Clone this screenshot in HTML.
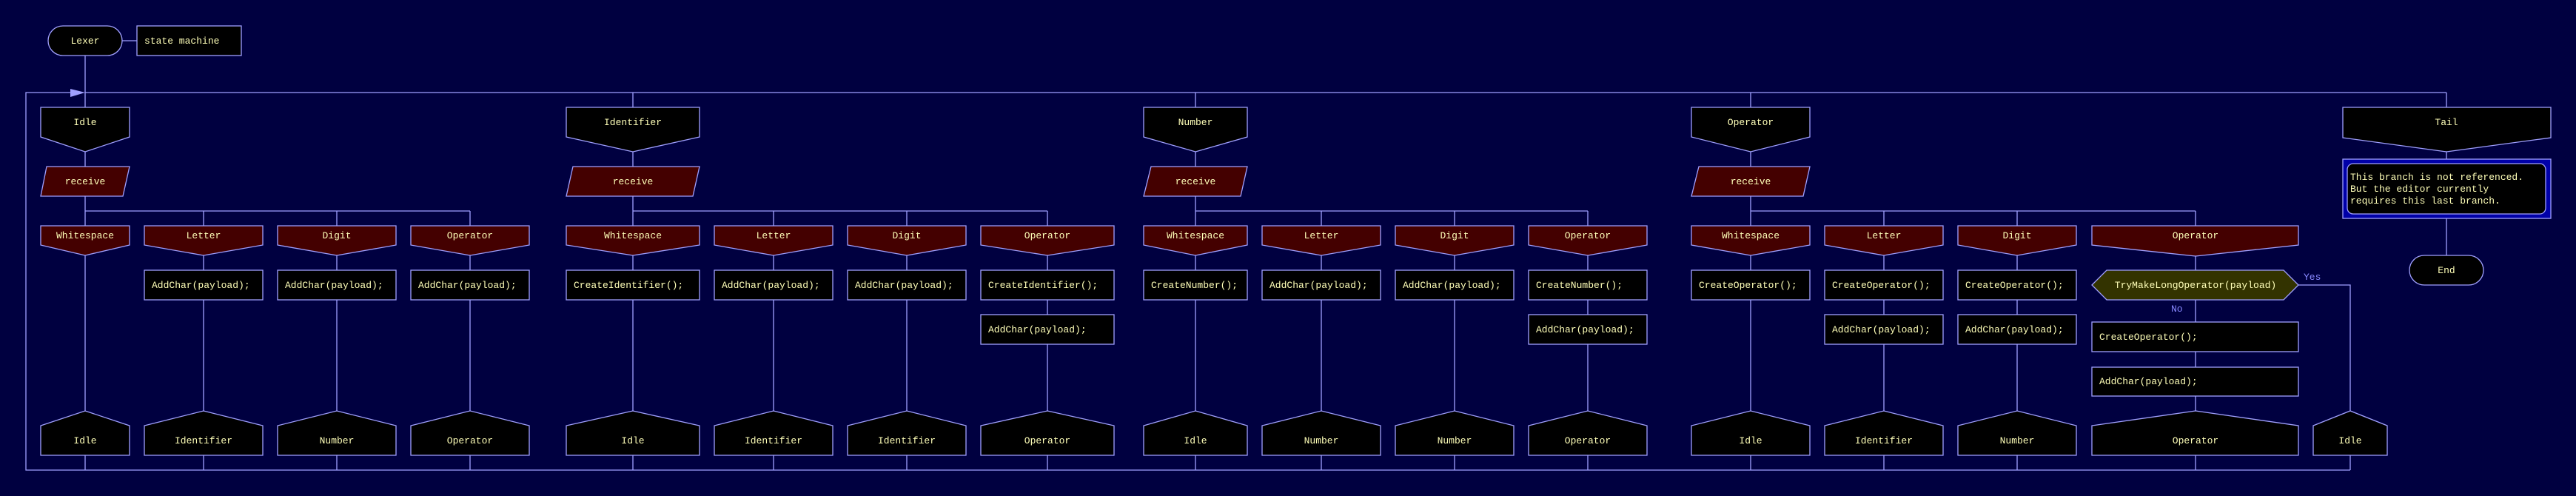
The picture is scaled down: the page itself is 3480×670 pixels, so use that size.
<!DOCTYPE html>
<html><head><meta charset="utf-8"><style>
html,body{margin:0;padding:0;background:#000040;}
svg{display:block}
text{font-family:"Liberation Mono",monospace;font-size:13px;fill:#ffffb8}
.c{text-anchor:middle}
</style></head><body>
<svg width="3480" height="670" viewBox="0 0 3480 670" xmlns="http://www.w3.org/2000/svg">
<rect width="3480" height="670" fill="#000040"/>
<g stroke="#a0a0ff" stroke-width="1.3" fill="none">
<!-- top -->
<line x1="165" y1="55" x2="185" y2="55"/>
<line x1="115" y1="75" x2="115" y2="145"/>
<line x1="115" y1="125" x2="3305" y2="125"/>
<polyline points="95,125 35,125 35,635 3175,635"/>
<line x1="855" y1="125" x2="855" y2="145"/>
<line x1="1615" y1="125" x2="1615" y2="145"/>
<line x1="2365" y1="125" x2="2365" y2="145"/>
<line x1="3305" y1="125" x2="3305" y2="145"/>
<!-- header to receive to branch -->
<line x1="115" y1="205" x2="115" y2="305"/>
<line x1="855" y1="205" x2="855" y2="305"/>
<line x1="1615" y1="205" x2="1615" y2="305"/>
<line x1="2365" y1="205" x2="2365" y2="305"/>
<line x1="115" y1="285" x2="635" y2="285"/>
<line x1="855" y1="285" x2="1415" y2="285"/>
<line x1="1615" y1="285" x2="2145" y2="285"/>
<line x1="2365" y1="285" x2="2966" y2="285"/>
<!-- column verticals -->
<line x1="275" y1="285" x2="275" y2="635"/>
<line x1="455" y1="285" x2="455" y2="635"/>
<line x1="635" y1="285" x2="635" y2="635"/>
<line x1="115" y1="345" x2="115" y2="635"/>
<line x1="855" y1="345" x2="855" y2="635"/>
<line x1="1045" y1="285" x2="1045" y2="635"/>
<line x1="1225" y1="285" x2="1225" y2="635"/>
<line x1="1415" y1="285" x2="1415" y2="635"/>
<line x1="1615" y1="345" x2="1615" y2="635"/>
<line x1="1785" y1="285" x2="1785" y2="635"/>
<line x1="1965" y1="285" x2="1965" y2="635"/>
<line x1="2145" y1="285" x2="2145" y2="635"/>
<line x1="2365" y1="345" x2="2365" y2="635"/>
<line x1="2545" y1="285" x2="2545" y2="635"/>
<line x1="2725" y1="285" x2="2725" y2="635"/>
<line x1="2966" y1="285" x2="2966" y2="635"/>
<polyline points="3105,385 3175,385 3175,635"/>
<line x1="3305" y1="205" x2="3305" y2="345"/>
</g>
<polygon points="95,120 115,125 95,131" fill="#a0a0ff"/>

<g stroke="#a0a0ff" stroke-width="1.3">
<!-- Lexer -->
<rect x="65" y="35" width="100" height="40" rx="20" fill="#000"/>
<rect x="185" y="35" width="141" height="40" fill="#000"/>
<!-- headers -->
<polygon points="55,145 175,145 175,185 115,205 55,185" fill="#000"/>
<polygon points="765,145 945,145 945,185 855,205 765,185" fill="#000"/>
<polygon points="1545,145 1685,145 1685,185 1615,205 1545,185" fill="#000"/>
<polygon points="2285,145 2445,145 2445,185 2365,205 2285,185" fill="#000"/>
<polygon points="3165,145 3446,145 3446,186 3305,205 3165,186" fill="#000"/>
<!-- receive -->
<polygon points="63,225 175,225 166,265 55,265" fill="#440000"/>
<polygon points="774,225 945,225 936,265 765,265" fill="#440000"/>
<polygon points="1555,225 1685,225 1676,265 1545,265" fill="#440000"/>
<polygon points="2295,225 2445,225 2436,265 2285,265" fill="#440000"/>
<!-- cases -->
<polygon points="55,305 175,305 175,331 115,345 55,331" fill="#440000"/>
<polygon points="195,305 355,305 355,331 275,345 195,331" fill="#440000"/>
<polygon points="375,305 535,305 535,331 455,345 375,331" fill="#440000"/>
<polygon points="555,305 715,305 715,331 635,345 555,331" fill="#440000"/>
<polygon points="765,305 945,305 945,331 855,345 765,331" fill="#440000"/>
<polygon points="965,305 1125,305 1125,331 1045,345 965,331" fill="#440000"/>
<polygon points="1145,305 1305,305 1305,331 1225,345 1145,331" fill="#440000"/>
<polygon points="1325,305 1505,305 1505,331 1415,345 1325,331" fill="#440000"/>
<polygon points="1545,305 1685,305 1685,331 1615,345 1545,331" fill="#440000"/>
<polygon points="1705,305 1865,305 1865,331 1785,345 1705,331" fill="#440000"/>
<polygon points="1885,305 2045,305 2045,331 1965,345 1885,331" fill="#440000"/>
<polygon points="2065,305 2225,305 2225,331 2145,345 2065,331" fill="#440000"/>
<polygon points="2285,305 2445,305 2445,331 2365,345 2285,331" fill="#440000"/>
<polygon points="2465,305 2625,305 2625,331 2545,345 2465,331" fill="#440000"/>
<polygon points="2645,305 2805,305 2805,331 2725,345 2645,331" fill="#440000"/>
<polygon points="2826,305 3105,305 3105,331 2966,346 2826,331" fill="#440000"/>
<!-- action boxes -->
<g fill="#000">
<rect x="195" y="365" width="160" height="40"/>
<rect x="375" y="365" width="160" height="40"/>
<rect x="555" y="365" width="160" height="40"/>
<rect x="765" y="365" width="180" height="40"/>
<rect x="965" y="365" width="160" height="40"/>
<rect x="1145" y="365" width="160" height="40"/>
<rect x="1325" y="365" width="180" height="40"/>
<rect x="1325" y="425" width="180" height="40"/>
<rect x="1545" y="365" width="140" height="40"/>
<rect x="1705" y="365" width="160" height="40"/>
<rect x="1885" y="365" width="160" height="40"/>
<rect x="2065" y="365" width="160" height="40"/>
<rect x="2065" y="425" width="160" height="40"/>
<rect x="2285" y="365" width="160" height="40"/>
<rect x="2465" y="365" width="160" height="40"/>
<rect x="2465" y="425" width="160" height="40"/>
<rect x="2645" y="365" width="160" height="40"/>
<rect x="2645" y="425" width="160" height="40"/>
<rect x="2826" y="435" width="279" height="40"/>
<rect x="2826" y="496" width="279" height="39"/>
</g>
<polygon points="2826,385 2846,365 3085,365 3105,385 3085,405 2846,405" fill="#333300"/>
<!-- end nodes -->
<g fill="#000">
<polygon points="55,575 115,555 175,575 175,615 55,615"/>
<polygon points="195,575 275,555 355,575 355,615 195,615"/>
<polygon points="375,575 455,555 535,575 535,615 375,615"/>
<polygon points="555,575 635,555 715,575 715,615 555,615"/>
<polygon points="765,575 855,555 945,575 945,615 765,615"/>
<polygon points="965,575 1045,555 1125,575 1125,615 965,615"/>
<polygon points="1145,575 1225,555 1305,575 1305,615 1145,615"/>
<polygon points="1325,575 1415,555 1505,575 1505,615 1325,615"/>
<polygon points="1545,575 1615,555 1685,575 1685,615 1545,615"/>
<polygon points="1705,575 1785,555 1865,575 1865,615 1705,615"/>
<polygon points="1885,575 1965,555 2045,575 2045,615 1885,615"/>
<polygon points="2065,575 2145,555 2225,575 2225,615 2065,615"/>
<polygon points="2285,575 2365,555 2445,575 2445,615 2285,615"/>
<polygon points="2465,575 2545,555 2625,575 2625,615 2465,615"/>
<polygon points="2645,575 2725,555 2805,575 2805,615 2645,615"/>
<polygon points="2826,575 2966,555 3105,575 3105,615 2826,615"/>
<polygon points="3125,575 3175,555 3225,575 3225,615 3125,615"/>
</g>
<!-- comment + end -->
<rect x="3165" y="215" width="281" height="80" fill="#0000a8"/>
<rect x="3171" y="221" width="268" height="68" rx="8" fill="#000"/>
<rect x="3255" y="345" width="100" height="40" rx="20" fill="#000"/>
</g>

<!-- texts -->
<text class="c" x="115" y="59">Lexer</text>
<text x="195" y="59">state machine</text>
<text class="c" x="115" y="169">Idle</text>
<text class="c" x="855" y="169">Identifier</text>
<text class="c" x="1615" y="169">Number</text>
<text class="c" x="2365" y="169">Operator</text>
<text class="c" x="3305" y="169">Tail</text>
<text class="c" x="115" y="249">receive</text>
<text class="c" x="855" y="249">receive</text>
<text class="c" x="1615" y="249">receive</text>
<text class="c" x="2365" y="249">receive</text>
<g class="c">
<text class="c" x="115" y="322">Whitespace</text>
<text class="c" x="275" y="322">Letter</text>
<text class="c" x="455" y="322">Digit</text>
<text class="c" x="635" y="322">Operator</text>
<text class="c" x="855" y="322">Whitespace</text>
<text class="c" x="1045" y="322">Letter</text>
<text class="c" x="1225" y="322">Digit</text>
<text class="c" x="1415" y="322">Operator</text>
<text class="c" x="1615" y="322">Whitespace</text>
<text class="c" x="1785" y="322">Letter</text>
<text class="c" x="1965" y="322">Digit</text>
<text class="c" x="2145" y="322">Operator</text>
<text class="c" x="2365" y="322">Whitespace</text>
<text class="c" x="2545" y="322">Letter</text>
<text class="c" x="2725" y="322">Digit</text>
<text class="c" x="2966" y="322">Operator</text>
</g>
<text x="205" y="389">AddChar(payload);</text>
<text x="385" y="389">AddChar(payload);</text>
<text x="565" y="389">AddChar(payload);</text>
<text x="775" y="389">CreateIdentifier();</text>
<text x="975" y="389">AddChar(payload);</text>
<text x="1155" y="389">AddChar(payload);</text>
<text x="1335" y="389">CreateIdentifier();</text>
<text x="1335" y="449">AddChar(payload);</text>
<text x="1555" y="389">CreateNumber();</text>
<text x="1715" y="389">AddChar(payload);</text>
<text x="1895" y="389">AddChar(payload);</text>
<text x="2075" y="389">CreateNumber();</text>
<text x="2075" y="449">AddChar(payload);</text>
<text x="2295" y="389">CreateOperator();</text>
<text x="2475" y="389">CreateOperator();</text>
<text x="2475" y="449">AddChar(payload);</text>
<text x="2655" y="389">CreateOperator();</text>
<text x="2655" y="449">AddChar(payload);</text>
<text class="c" x="2966" y="389">TryMakeLongOperator(payload)</text>
<text x="2836" y="459">CreateOperator();</text>
<text x="2836" y="519">AddChar(payload);</text>
<text x="3112" y="378" style="fill:#8888ff">Yes</text>
<text x="2933" y="421" style="fill:#8888ff">No</text>
<text class="c" x="115" y="599">Idle</text>
<text class="c" x="275" y="599">Identifier</text>
<text class="c" x="455" y="599">Number</text>
<text class="c" x="635" y="599">Operator</text>
<text class="c" x="855" y="599">Idle</text>
<text class="c" x="1045" y="599">Identifier</text>
<text class="c" x="1225" y="599">Identifier</text>
<text class="c" x="1415" y="599">Operator</text>
<text class="c" x="1615" y="599">Idle</text>
<text class="c" x="1785" y="599">Number</text>
<text class="c" x="1965" y="599">Number</text>
<text class="c" x="2145" y="599">Operator</text>
<text class="c" x="2365" y="599">Idle</text>
<text class="c" x="2545" y="599">Identifier</text>
<text class="c" x="2725" y="599">Number</text>
<text class="c" x="2966" y="599">Operator</text>
<text class="c" x="3175" y="599">Idle</text>
<text x="3175" y="243">This branch is not referenced.</text>
<text x="3175" y="259">But the editor currently</text>
<text x="3175" y="275">requires this last branch.</text>
<text class="c" x="3305" y="369">End</text>
</svg>
</body></html>
